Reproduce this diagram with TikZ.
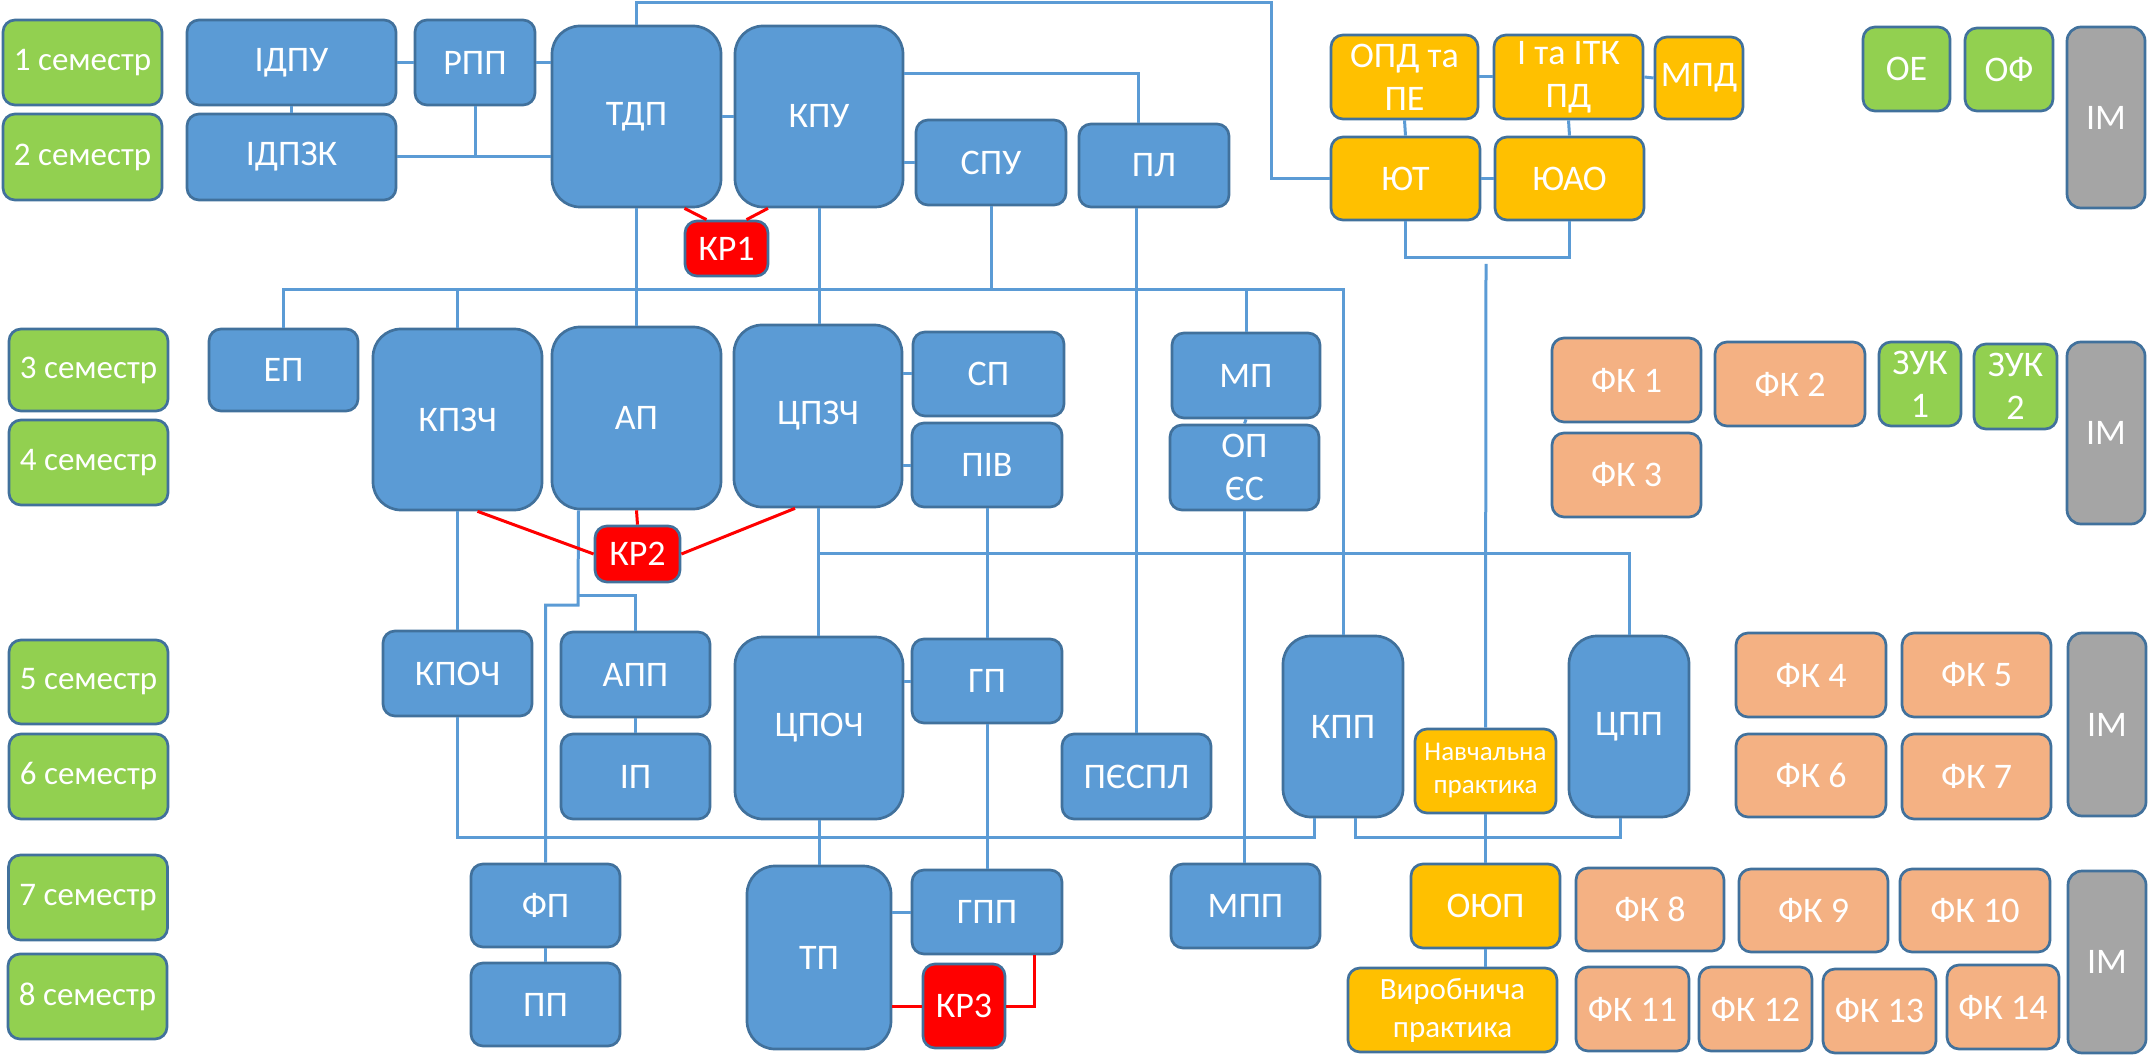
\documentclass[tikz,border=0pt]{standalone}
\usepackage{fontspec}
\setmainfont{Carlito}
\usepackage{tikz}
\usetikzlibrary{positioning,calc}
\definecolor{unit blue}{HTML}{5B9BD5}
\definecolor{unit edge}{HTML}{41719C}
\definecolor{term green}{HTML}{92D050}
\definecolor{law gold}{HTML}{FFC000}
\definecolor{choice peach}{HTML}{F4B183}
\definecolor{module grey}{HTML}{A5A5A5}
\tikzset{% 
  course box/.style={%
    draw=unit edge,
    line width=2.7pt,
    rounded corners=12pt,
    fill=unit blue,
    text=white,
    inner sep=0pt,
    align=center,
    font=\fontsize{36}{43}\selectfont
  }
}
\tikzset{% 
  tall box/.style={%
    course box,
    rounded corners=28pt
  }
}
\tikzset{% 
  semester box/.style={%
    course box,
    fill=term green,
    font=\fontsize{33}{40}\selectfont
  }
}
\tikzset{% 
  law box/.style={%
    course box,
    fill=law gold
  }
}
\tikzset{% 
  choice box/.style={%
    course box,
    fill=choice peach
  }
}
\tikzset{% 
  module box/.style={%
    course box,
    rounded corners=14pt,
    fill=module grey
  }
}
\tikzset{% 
  paper box/.style={%
    course box,
    fill=red
  }
}
\tikzset{% 
  box size/.style 2 args={%
    minimum width=#1pt,
    minimum height=#2pt
  }
}
\tikzset{% 
  link/.style={%
    draw=unit blue,
    line width=3pt
  }
}
\tikzset{% 
  paper link/.style={%
    draw=red,
    line width=3pt
  }
}

\begin{document}
\begin{tikzpicture}[x=1pt, y=-1pt]
  \useasboundingbox (0,0) rectangle (2150,1056);
  % semesters
  \node [semester box, box size={159}{85}] (sem1) at (82.5, 62.5) {1 семестр};
  \node [semester box, box size={159}{86}] (sem2) at (82.5, 157) {2 семестр};
  \node [semester box, box size={159}{82}] (sem3) at (88.5, 370) {3 семестр};
  \node [semester box, box size={159}{85}] (sem4) at (88.5, 462.5) {4 семестр};
  \node [semester box, box size={159}{84}] (sem5) at (88.5, 682) {5 семестр};
  \node [semester box, box size={159}{85}] (sem6) at (88.5, 776.5) {6 семестр};
  \node [semester box, box size={159}{85}] (sem7) at (88, 897.5) {7 семестр};
  \node [semester box, box size={159}{85}] (sem8) at (87.5, 996.5) {8 семестр};
  % first year
  \node [course box, box size={209}{85}] (idpu) at (291.5, 62.5) {ІДПУ};
  \node [course box, box size={209}{86}] (idpzk) at (291.5, 157) {ІДПЗК};
  \node [course box, box size={120}{85}] (rpp) at (475, 62.5) {РПП};
  \node [tall box, box size={169}{181}] (tdp) at (636.5, 116.5) {ТДП};
  \node [tall box, box size={168}{181}] (kpu) at (819, 116.5) {КПУ};
  \node [course box, box size={150}{85}] (spu) at (991, 162.5) {СПУ};
  \node [course box, box size={150}{83}] (pl) at (1154, 165.5) {ПЛ};
  \node [paper box, box size={83}{55}] (kr1) at (726.5, 248.5) {КР1};
  % second year
  \node [course box, box size={149}{82}] (ep) at (283.5, 370) {ЕП};
  \node [tall box, box size={169}{181}] (kpzch) at (457.5, 419.5) {КПЗЧ};
  \node [tall box, box size={169}{182}] (ap) at (636.5, 418) {АП};
  \node [tall box, box size={168}{182}] (cpzch) at (818, 416) {ЦПЗЧ};
  \node [course box, box size={151}{84}] (sp) at (988.5, 374) {СП};
  \node [course box, box size={150}{84}] (piv) at (987, 465) {ПІВ};
  \node [course box, box size={148}{85}] (mp) at (1246, 375.5) {МП};
  \node [course box, box size={149}{85}] (opes) at (1244.5, 467.5) {ОП\\ЄС};
  \node [paper box, box size={85}{56}] (kr2) at (637.5, 554) {КР2};
  % third year
  \node [course box, box size={149}{85}] (kpoch) at (457.5, 673.5) {КПОЧ};
  \node [course box, box size={149}{85}] (app) at (635.5, 674.5) {АПП};
  \node [course box, box size={149}{85}] (ip) at (635.5, 776.5) {ІП};
  \node [tall box, box size={168}{182}] (cpoch) at (819, 728) {ЦПОЧ};
  \node [course box, box size={150}{84}] (gp) at (987, 681) {ГП};
  \node [course box, box size={149}{85}] (pespl) at (1136.5, 776.5) {ПЄСПЛ};
  \node [tall box, box size={120}{181}] (kpp) at (1343, 726.5) {КПП};
  \node [tall box, box size={120}{181}] (cpp) at (1629, 726.5) {ЦПП};
  % fourth year
  \node [course box, box size={149}{83}] (fp) at (545.5, 905.5) {ФП};
  \node [course box, box size={149}{83}] (pp) at (545.5, 1004.5) {ПП};
  \node [tall box, box size={144}{183}] (tp) at (819, 957.5) {ТП};
  \node [course box, box size={150}{84}] (gpp) at (987, 912) {ГПП};
  \node [course box, box size={149}{84}] (mpp) at (1245.5, 906) {МПП};
  \node [paper box, box size={82}{84}] (kr3) at (964, 1006) {КР3};
  % law block
  \node [law box, box size={147}{84}] (opdpe) at (1404.5, 77) {ОПД та\\ПЕ};
  \node [law box, box size={149}{84}] (itk) at (1568.5, 77) {І та ІТК\\ПД};
  \node [law box, box size={88}{82}] (mpd) at (1699, 78) {МПД};
  \node [law box, box size={149}{83}] (yut) at (1405.5, 178.5) {ЮТ};
  \node [law box, box size={149}{83}] (yuao) at (1569.5, 178.5) {ЮАО};
  \node [law box, box size={141}{84}, font=\fontsize{27}{33}\selectfont] (navch) at (1485.5, 771) {Навчальна\\практика};
  \node [law box, box size={149}{84}] (oyup) at (1485.5, 906) {ОЮП};
  \node [law box, box size={209}{84}, font=\fontsize{31}{38}\selectfont] (vyr) at (1452.5, 1010) {Виробнича\\практика};
  % electives
  \node [semester box, box size={87}{84}, font=\fontsize{36}{43}\selectfont] (oe) at (1906.5, 69) {ОЕ};
  \node [semester box, box size={88}{83}, font=\fontsize{36}{43}\selectfont] (of) at (2009, 69.5) {ОФ};
  \node [semester box, box size={82}{84}, font=\fontsize{36}{43}\selectfont] (zuk1) at (1920, 384) {ЗУК\\1};
  \node [semester box, box size={83}{85}, font=\fontsize{36}{43}\selectfont] (zuk2) at (2015.5, 386.5) {ЗУК\\2};
  \node [choice box, box size={149}{84}] (fk1) at (1626.5, 380) {ФК 1};
  \node [choice box, box size={150}{84}] (fk2) at (1790, 384) {ФК 2};
  \node [choice box, box size={149}{84}] (fk3) at (1626.5, 475) {ФК 3};
  \node [choice box, box size={150}{84}] (fk4) at (1811, 675) {ФК 4};
  \node [choice box, box size={149}{84}] (fk5) at (1976.5, 675) {ФК 5};
  \node [choice box, box size={150}{83}] (fk6) at (1811, 775.5) {ФК 6};
  \node [choice box, box size={149}{85}] (fk7) at (1976.5, 776.5) {ФК 7};
  \node [choice box, box size={148}{83}] (fk8) at (1650, 909.5) {ФК 8};
  \node [choice box, box size={149}{83}] (fk9) at (1813.5, 910.5) {ФК 9};
  \node [choice box, box size={150}{83}] (fk10) at (1975, 910.5) {ФК 10};
  \node [choice box, box size={113}{84}] (fk11) at (1632.5, 1009) {ФК 11};
  \node [choice box, box size={113}{84}] (fk12) at (1755.5, 1009) {ФК 12};
  \node [choice box, box size={113}{84}] (fk13) at (1879.5, 1011) {ФК 13};
  \node [choice box, box size={112}{84}] (fk14) at (2003, 1007) {ФК 14};
  \node [module box, box size={78}{181}] (im1) at (2106, 117.5) {ІМ};
  \node [module box, box size={78}{182}] (im2) at (2106, 433) {ІМ};
  \node [module box, box size={78}{183}] (im3) at (2107, 724.5) {ІМ};
  \node [module box, box size={78}{182}] (im4) at (2107, 962) {ІМ};
  % rails
  \coordinate (top rail) at (1271, 3);
  \coordinate (upper rail) at (0, 290);
  \coordinate (middle rail) at (0, 553);
  \coordinate (lower rail) at (0, 837);
  \coordinate (ap fork) at (578, 595);
  \coordinate (yu foot) at (1486, 264);
  \coordinate (kpp left foot) at ([xshift=-29pt]kpp.south);
  \coordinate (kpp right foot) at ([xshift=12pt]kpp.south);
  \coordinate (cpp foot) at ([xshift=-9pt]cpp.south);
  % first year links
  \draw [link] (idpu.east) -- (rpp.west);
  \draw [link] (rpp.east) -- (rpp.east -| tdp.west);
  \draw [link] (idpu.south) -- (idpzk.north);
  \draw [link] (idpzk.east) -- (idpzk.east -| tdp.west);
  \draw [link] (rpp.south) -- (rpp.south |- idpzk.east);
  \draw [link] (tdp.north) |- (top rail) |- (yut.west);
  \draw [link] (tdp.east |- kpu.west) -- (kpu.west);
  \draw [link] ([yshift=43pt]kpu.east) -| ([xshift=-16pt]pl.north);
  \draw [link] (spu.west -| kpu.east) -- (spu.west);
  \draw [paper link] ([xshift=48pt]tdp.south) -- ([xshift=-20pt]kr1.north);
  \draw [paper link] ([xshift=-51pt]kpu.south) -- ([xshift=20pt]kr1.north);
  % upper rail
  \draw [link] (ep.north) |- (kpp.north |- upper rail) -- (kpp.north);
  \draw [link] (kpzch.north) -- (kpzch.north |- upper rail);
  \draw [link] (tdp.south) -- (ap.north);
  \draw [link] (kpu.south) -- (kpu.south |- cpzch.north);
  \draw [link] (spu.south) -- (spu.south |- upper rail);
  \draw [link] (mp.north |- upper rail) -- (mp.north);
  \draw [link] (pespl.north |- pl.south) -- (pespl.north);
  % second year links
  \draw [link] (sp.west -| cpzch.east) -- (sp.west);
  \draw [link] (piv.west -| cpzch.east) -- (piv.west);
  \draw [link] (mp.south) -- (opes.north);
  \draw [link] (opes.south) -- (opes.south |- mpp.north);
  \draw [link] (piv.south) -- (piv.south |- gp.north);
  \draw [link] (cpzch.south) -- (cpzch.south |- cpoch.north);
  \draw [link] (cpzch.south |- middle rail) -| (cpp.north);
  \draw [link] (kpzch.south) -- (kpoch.north);
  \draw [link] ([xshift=-58pt]ap.south) -- ([yshift=-10pt]ap fork) -| (fp.north);
  \draw [link] (ap fork) -| (app.north);
  \draw [paper link] ([xshift=20pt]kpzch.south) -- (kr2.west);
  \draw [paper link] (ap.south) -- (kr2.north);
  \draw [paper link] ([xshift=-23pt]cpzch.south) -- (kr2.east);
  % lower rail
  \draw [link] (kpoch.south) |- (kpp left foot |- lower rail) -- (kpp left foot);
  \draw [link] (kpp right foot) |- (cpp foot |- lower rail) -- (cpp foot);
  % third and fourth year links
  \draw [link] (app.south) -- (ip.north);
  \draw [link] (gp.west -| cpoch.east) -- (gp.west);
  \draw [link] (cpoch.south) -- (cpoch.south |- tp.north);
  \draw [link] (gp.south) -- (gpp.north);
  \draw [link] (gpp.west -| tp.east) -- (gpp.west);
  \draw [link] (fp.south) -- (pp.north);
  \draw [paper link] (kr3.west -| tp.east) -- (kr3.west);
  \draw [paper link] (kr3.east) -| ([xshift=47pt]gpp.south);
  % law links
  \draw [link] (opdpe.east) -- (itk.west);
  \draw [link] (itk.east) -- (mpd.west);
  \draw [link] (opdpe.south) -- (yut.north);
  \draw [link] (itk.south) -- (yuao.north);
  \draw [link] (yut.east) -- (yuao.west);
  \draw [link] (yut.south) -- ++(0,36) -| (yuao.south);
  \draw [link] (yu foot) -- (navch.north);
  \draw [link] (navch.south) -- (oyup.north);
  \draw [link] (oyup.south) -- (oyup.south |- vyr.north);
\end{tikzpicture}
\end{document}
